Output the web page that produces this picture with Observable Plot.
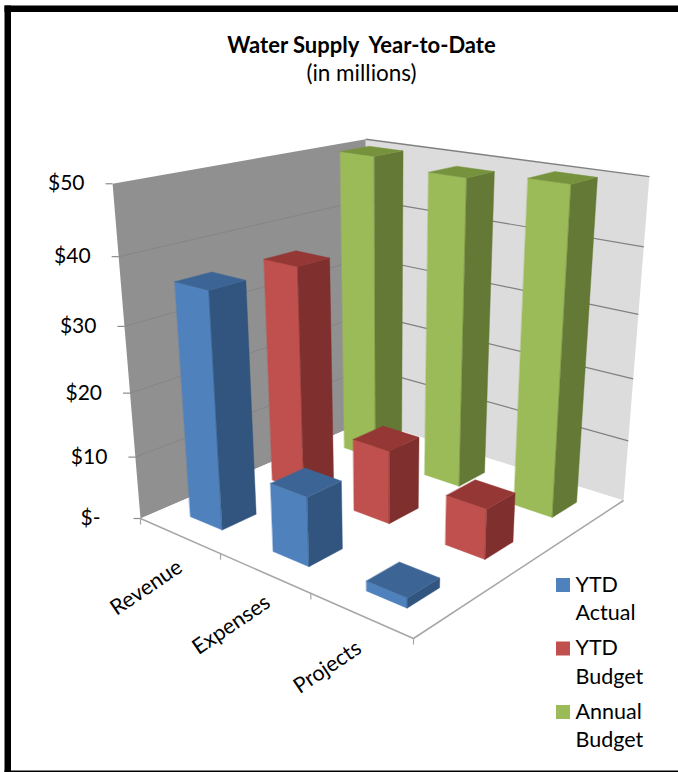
<!DOCTYPE html>
<html>
<head>
<meta charset="utf-8">
<style>html,body{margin:0;padding:0;background:#fff;overflow:hidden}svg{display:block}</style>
<script src="https://cdn.jsdelivr.net/npm/d3@7"></script>
<script src="https://cdn.jsdelivr.net/npm/@observablehq/plot@0.6"></script>
</head>
<body>
<div id="chart"></div>
<script>
// Water Supply budget figures, $ millions
const categories = ["Revenue", "Expenses", "Projects"];
const ytdActual = [36.3, 10.6, 1.5];
const ytdBudget = [36.2, 11.7, 7.8];
const annualBudget = [50, 48.8, 50];
const seriesNames = [["YTD", "Actual"], ["YTD", "Budget"], ["Annual", "Budget"]];
const valueTicks = [0, 10, 20, 30, 40, 50];
const tickLabels = ["$-", "$10", "$20", "$30", "$40", "$50"];

// Face shades per series: lit side, top, shaded side
const shades = [
  ["#4f81bd", "#3c6595", "#31557f"],
  ["#c0504d", "#953735", "#7f302e"],
  ["#9bbb59", "#76923c", "#647935"]
];

const width = 678, height = 772, font = "Lato, Carlito, sans-serif";

// Perspective camera for the chart box: floor corners in screen space,
// plus the point where the verticals converge.
const floor = {left: [140, 518], front: [413, 638], right: [623, 500], back: [367, 420]};
const nadir = [386, 3465], rise = -0.102, valueMax = 50;
const camera = (() => {
  const [x0, y0] = floor.left, [x1, y1] = floor.front, [x2, y2] = floor.right, [x3, y3] = floor.back;
  const dx1 = x1 - x2, dx2 = x3 - x2, sx = x0 - x1 + x2 - x3;
  const dy1 = y1 - y2, dy2 = y3 - y2, sy = y0 - y1 + y2 - y3;
  const det = dx1 * dy2 - dx2 * dy1;
  const g = (sx * dy2 - dx2 * sy) / det, h = (dx1 * sy - sx * dy1) / det;
  return {a: x1 - x0 + g * x1, b: x3 - x0 + h * x3, c: x0, d: y1 - y0 + g * y1, e: y3 - y0 + h * y3, f: y0, g, h};
})();
// u runs along the categories, v runs back through the series, value is height
function project(u, v, value) {
  const {a, b, c, d, e, f, g, h} = camera;
  const w = (value / valueMax) * rise;
  const q = g * u + h * v + 1 + w;
  return [(a * u + b * v + c + nadir[0] * w) / q, (d * u + e * v + f + nadir[1] * w) / q];
}
const vertex = (u, v, value, face, color) => {
  const [x, y] = project(u, v, value);
  return {x, y, face, color};
};

// Bars, farthest first so nearer ones paint over them
const barU = 0.133, barV = 0.133;
const barFaces = [];
[annualBudget, ytdBudget, ytdActual].forEach((values, r) => {
  const s = 2 - r;
  values.forEach((value, c) => {
    const u0 = (c + 0.5) / 3 - barU / 2, u1 = u0 + barU;
    const v0 = (s + 0.5) / 3 - barV / 2, v1 = v0 + barV;
    const [lit, top, dark] = shades[s];
    const id = `${s}-${c}`;
    [[u0, v0, 0], [u1, v0, 0], [u1, v0, value], [u0, v0, value]].forEach(p => barFaces.push(vertex(...p, id + "lit", lit)));
    [[u1, v0, 0], [u1, v1, 0], [u1, v1, value], [u1, v0, value]].forEach(p => barFaces.push(vertex(...p, id + "dark", dark)));
    [[u0, v0, value], [u1, v0, value], [u1, v1, value], [u0, v1, value]].forEach(p => barFaces.push(vertex(...p, id + "top", top)));
  });
});

const wall = (corners) => corners.map(([u, v, value]) => {
  const [x, y] = project(u, v, value);
  return {x, y};
});
const leftWall = wall([[0, 0, 0], [0, 1, 0], [0, 1, valueMax], [0, 0, valueMax]]);
const rightWall = wall([[0, 1, 0], [1, 1, 0], [1, 1, valueMax], [0, 1, valueMax]]);
const floorPlate = wall([[0, 0, 0], [1, 0, 0], [1, 1, 0], [0, 1, 0]]);

const gridValues = valueTicks.slice(1, -1);
const leftGrid = gridValues.map(t => ({a: project(0, 0, t), b: project(0, 1, t)}));
const rightGrid = gridValues.map(t => ({a: project(0, 1, t), b: project(1, 1, t)}));
const topEdge = [{a: project(0, 1, valueMax), b: project(1, 1, valueMax)}];
const valueAxis = valueTicks.map((t, i) => ({p: project(0, 0, t), label: tickLabels[i]}));
const floorEdges = [
  {a: project(0, 0, 0), b: project(1, 0, 0)},
  {a: project(1, 0, 0), b: project(1, 1, 0)}
];
const categoryTicks = [0, 1, 2, 3].map(i => project(i / 3, 0, 0));
const categoryLabels = categories.map((name, i) => ({name, p: project((i + 0.5) / 3, 0, 0)}));

const link = (rows, options) => Plot.link(rows, {
  x1: d => d.a[0], y1: d => d.a[1], x2: d => d.b[0], y2: d => d.b[1], ...options
});
const polygon = (pts, fill) => Plot.line(pts, {x: "x", y: "y", fill, stroke: "none", curve: "linear-closed"});
const swatchTop = [578, 641.5, 705], rowY = [585, 613, 648, 677, 712, 740];
const legendRows = seriesNames.flat().map((text, i) => ({text, y: rowY[i]}));
// Frame bars: left, top, and the sliver left along the bottom
const frameBars = [
  {x1: 4.5, x2: 11, y1: 5.5, y2: 772},
  {x1: 4.5, x2: 678, y1: 5.5, y2: 12},
  {x1: 4.5, x2: 678, y1: 770.5, y2: 772}
];

const chart = Plot.plot({
  width, height,
  margin: 0,
  style: {background: "#fff", fontFamily: font},
  x: {domain: [0, width], range: [0, width], axis: null},
  y: {domain: [0, height], range: [0, height], axis: null},
  color: {type: "identity"},
  marks: [
    polygon(leftWall, "#909090"),
    polygon(rightWall, "#dcdcdc"),
    polygon(floorPlate, "#ffffff"),
    link(leftGrid, {stroke: "#858585", strokeWidth: 1}),
    link(rightGrid, {stroke: "#808080", strokeWidth: 1.2}),
    link(topEdge, {stroke: "#808080", strokeWidth: 1.4}),
    link(floorEdges, {stroke: "#a6a6a6", strokeWidth: 1.5}),
    Plot.link(valueAxis, {x1: d => d.p[0] - 7, x2: d => d.p[0], y1: d => d.p[1], y2: d => d.p[1], stroke: "#8c8c8c", strokeWidth: 1.2}),
    Plot.link(categoryTicks, {x1: d => d[0], x2: d => d[0], y1: d => d[1], y2: d => d[1] + 6, stroke: "#a6a6a6", strokeWidth: 1.2}),
    Plot.line(barFaces, {x: "x", y: "y", z: "face", fill: d => d.color, stroke: d => d.color, strokeWidth: 0.4, curve: "linear-closed"}),
    // Value labels beside the wall
    Plot.text(valueAxis, {x: d => d.p[0] - (d.label === "$-" ? 40 : 28), y: d => d.p[1], text: "label", textAnchor: "end", fontSize: 21, fill: "#000"}),
    // Category labels run parallel to the front floor edge
    Plot.text(categoryLabels, {x: d => d.p[0] - 33, y: d => d.p[1] + 52, text: "name", rotate: -34, fontSize: 21.5, fill: "#000"}),
    // Title block
    Plot.text(["Water Supply  Year-to-Date"], {x: () => 361, y: () => 45, text: d => d, fontSize: 22, fontWeight: 700, fill: "#000"}),
    Plot.text(["(in millions)"], {x: () => 361, y: () => 73, text: d => d, fontSize: 22.5, fill: "#000"}),
    // Legend
    Plot.rect(shades, {x1: () => 556, x2: () => 570, y1: (d, i) => swatchTop[i], y2: (d, i) => swatchTop[i] + 14, fill: d => d[0]}),
    Plot.text(legendRows, {x: () => 575, y: "y", text: "text", textAnchor: "start", fontSize: 21.5, fill: "#000"}),
    // Black frame, cropped at the right and bottom edges
    Plot.rect(frameBars, {x1: "x1", x2: "x2", y1: "y1", y2: "y2", fill: "#000"})
  ]
});
document.getElementById("chart").appendChild(chart);
</script>
</body>
</html>
